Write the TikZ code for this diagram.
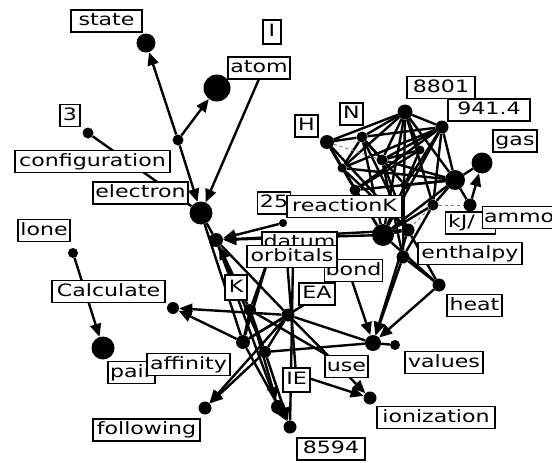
\documentclass[tikz,border=0pt]{standalone}
\usepackage{fontspec}
\newfontfamily\lblfont[FakeStretch=1.3]{DejaVu Sans}
\usetikzlibrary{arrows.meta}
\pgfdeclarelayer{bg}
\pgfsetlayers{bg,main}
\begin{document}
\begin{tikzpicture}[x=1pt,y=-1pt,
  blob/.style={circle,fill=black,inner sep=0pt,minimum size=#1},
  blob/.default=10pt,
  lbl/.style={draw=black,line width=1.1pt,fill=white,inner sep=1.5pt,minimum height=22pt,
    text height=12.4pt,text depth=3.3pt,font={\lblfont\fontsize{17pt}{19pt}\selectfont}},
  edge/.style={line width=2.4pt},
  arr/.style={edge,-{Triangle[length=13pt,width=11pt]}},
  faint/.style={gray,dashed,line width=1pt}]
\useasboundingbox (0,0) rectangle (552,463);
\begin{pgfonlayer}{bg}
\fill[white] (0,0) rectangle (552,463);
\end{pgfonlayer}
% dots
\node[blob=19pt] (dstate) at (146,43) {};
\node[blob=27pt] (dbig) at (217,88) {};
\node[blob=11pt] (dc) at (178,140) {};
\node[blob=11pt] (d3) at (88,133) {};
\node[blob=23pt] (delec) at (201,213) {};
\node[blob=14pt] (dx) at (216,240) {};
\node[blob=8pt] (d25) at (283,223) {};
\node[blob=10pt] (dlone) at (73,253) {};
\node[blob=23pt] (dpair) at (103,348) {};
\node[blob=12pt] (dI) at (173,308) {};
\node[blob=13pt] (dfoll) at (205,408) {};
\node[blob=14pt] (h1) at (243,342) {};
\node[blob=13pt] (h2) at (288,315) {};
\node[blob=12pt] (h3) at (265,352) {};
\node[blob=12pt] (h4) at (250,310) {};
\node[blob=14pt] (d85a) at (278,407) {};
\node[blob=13pt] (d85) at (290,427) {};
\node[blob=16pt] (dval) at (373,343) {};
\node[blob=10pt] (dval2) at (395,345) {};
\node[blob=13pt] (dion) at (370,398) {};
\node[blob=13pt] (dheat) at (439,285) {};
\node[blob=14pt] (tH) at (327,142) {};
\node[blob=11pt] (tN) at (362,137) {};
\node[blob=15pt] (t88) at (405,112) {};
\node[blob=13pt] (t94) at (442,127) {};
\node[blob=11pt] (tc1) at (382,160) {};
\node[blob=20pt] (tc2) at (455,180) {};
\node[blob=11pt] (tc3) at (433,205) {};
\node[blob=22pt] (tc4) at (383,235) {};
\node[blob=13pt] (tc5) at (408,230) {};
\node[blob=13pt] (tc6) at (403,257) {};
\node[blob=21pt] (tgas) at (482,163) {};
\node[blob=11pt] (tr) at (355,190) {};
\node[blob=13pt] (tc7) at (470,205) {};
\node[blob=9pt] (tc9) at (342,168) {};
\node[blob=9pt] (tc10) at (420,150) {};
\node[blob=9pt] (tc11) at (405,185) {};
% hidden coordinates
\coordinate (catom) at (262,72);
\coordinate (cbond) at (350,275);
\coordinate (co1) at (268,260);
\coordinate (co2) at (287,260);
\coordinate (co3) at (293,260);
\coordinate (cIE) at (302,376);
\coordinate (cEA) at (312,300);
% labels
\node[lbl,minimum width=71pt] (state) at (106.5,21) {state};
\node[lbl,minimum width=18pt,minimum height=24pt] (lI) at (272,32) {I};
\node[lbl,minimum width=62pt] (atom) at (259,68) {atom};
\node[lbl,minimum width=20pt] (l3) at (70,115.5) {3};
\node[lbl,minimum width=155pt] (config) at (92.5,161.5) {configuration};
\node[lbl,minimum width=95pt] (electron) at (140.5,193) {electron};
\node[lbl,minimum width=52pt] (lone) at (44,230.5) {lone};
\node[lbl,minimum width=113pt] (calc) at (108.5,291.5) {Calculate};
\node[lbl,minimum width=47pt] (pair) at (131.5,372.5) {pair};
\node[lbl,minimum width=83pt] (aff) at (188.5,364.5) {affinity};
\node[lbl,minimum width=107pt] (foll) at (146.5,430) {following};
\node[lbl,minimum width=22pt,minimum height=25pt] (K) at (236,287.5) {K};
\node[lbl,minimum width=33pt,anchor=west] (l25) at (257,203) {25};
\node[lbl,minimum width=115pt] (react) at (344.5,206.5) {reactionK};
\node[lbl,minimum width=75pt] (datum) at (299.5,243) {datum};
\node[lbl,minimum width=57pt] (bond) at (353.5,270.5) {bond};
\node[lbl,minimum width=90pt] (orb) at (292,256.5) {orbitals};
\node[lbl,minimum width=36pt] (EA) at (317,294) {EA};
\node[lbl,minimum width=27pt,minimum height=24pt] (IE) at (296.5,380) {IE};
\node[lbl,minimum width=43pt] (use) at (346.5,366.5) {use};
\node[lbl,minimum width=78pt] (values) at (444,362.5) {values};
\node[lbl,minimum width=118pt] (ion) at (436,417.5) {ionization};
\node[lbl,minimum width=68pt] (l8594) at (331,449) {8594};
\node[lbl,minimum width=55pt] (heat) at (474.5,305.5) {heat};
\node[lbl,minimum width=104pt] (enth) at (470,253.5) {enthalpy};
\node[lbl,anchor=west,minimum width=50pt,align=left,text width=45pt] (kJ) at (445,223) {kJ/};
\node[lbl,anchor=west] (amm) at (482,217.5) {ammonia};
\node[lbl,minimum width=68pt] (l8801) at (441,87.5) {8801};
\node[lbl,minimum width=82pt] (l941) at (489,110) {941.4};
\node[lbl,minimum width=44pt] (gas) at (515,141) {gas};
\node[lbl,minimum width=23pt] (N) at (351.5,114) {N};
\node[lbl,minimum width=23pt] (H) at (306.5,126) {H};
% edges
\begin{pgfonlayer}{bg}
\draw[arr] (dc) -- (dstate);
\draw[arr] (dc) -- (dbig);
\draw[arr] (dc) -- (delec);
\draw[arr] (catom) -- (delec);
\draw[edge] (d3) -- (delec);
\draw[arr] (dlone) -- (dpair);
\draw[arr] (d25) -- (dx);
\draw[arr] (tc4) -- (dx);
\draw[arr] (tc5) -- (dx);
\draw[arr] (h4) -- (dx);
\draw[edge] (dx) -- (delec);
\draw[edge] (delec) -- (h1);
\draw[edge] (dx) -- (d85a);
\draw[edge] (dx) -- (h2);
\draw[edge] (dx) -- (h3);
\draw[edge] (co1) -- (h1);
\draw[edge] (co1) -- (h4);
\draw[edge] (co2) -- (IE);
\draw[edge] (co3) -- (d85);
\draw[edge] (cEA) -- (h1);
\draw[arr] (h2) -- (dI);
\draw[arr] (h1) -- (dI);
\draw[arr] (h3) -- (dfoll);
\draw[arr] (h2) -- (dfoll);
\draw[arr] (h4) -- (d85a);
\draw[arr] (h1) -- (d85);
\draw[arr] (h3) -- (d85);
\draw[edge] (h1) -- (h2);
\draw[edge] (h4) -- (h3);
\draw[edge] (h1) -- (h4);
\draw[edge] (h2) -- (h3);
\draw[edge] (h2) -- (dval);
\draw[edge] (h3) -- (dval);
\draw[arr] (h2) -- (dion);
\draw[arr] (cIE) -- (dion);
\draw[edge] (h4) -- (use);
\draw[arr] (cbond) -- (dval);
\draw[arr] (tc6) -- (dval);
\draw[arr] (tc5) -- (dval);
\draw[arr] (dheat) -- (dval);
\draw[edge] (tc6) -- (dheat);
\draw[edge] (tc4) -- (dheat);
\draw[edge] (tc5) -- (dheat);
\draw[edge] (dval) -- (dval2);
\draw[edge] (tc3) -- (tc6);
% top cluster
\draw[edge] (tH) -- (tN);
\draw[edge] (tH) -- (t88);
\draw[edge] (tH) -- (tr);
\draw[edge] (tH) -- (tc4);
\draw[edge] (tH) -- (tc9);
\draw[edge] (tN) -- (t88);
\draw[edge] (tN) -- (t94);
\draw[edge] (tN) -- (tc1);
\draw[edge] (tN) -- (tc4);
\draw[edge] (tN) -- (tc5);
\draw[edge] (tN) -- (tc9);
\draw[edge] (tN) -- (tc11);
\draw[edge] (t88) -- (t94);
\draw[edge] (t88) -- (tc1);
\draw[edge] (t88) -- (tc4);
\draw[edge] (t88) -- (tc6);
\draw[edge] (t88) -- (tc3);
\draw[edge] (t88) -- (tc2);
\draw[edge] (t88) -- (tc9);
\draw[edge] (t88) -- (tc10);
\draw[edge] (t94) -- (tc2);
\draw[edge] (t94) -- (tc1);
\draw[edge] (t94) -- (tc4);
\draw[edge] (t94) -- (tc3);
\draw[edge] (t94) -- (tr);
\draw[edge] (t94) -- (tc9);
\draw[edge] (t94) -- (tc11);
\draw[edge] (tc1) -- (tc2);
\draw[edge] (tc1) -- (tc5);
\draw[edge] (tc1) -- (tc6);
\draw[edge] (tc1) -- (tc10);
\draw[edge] (tc9) -- (tc5);
\draw[edge] (tc9) -- (tc2);
\draw[edge] (tc10) -- (tc4);
\draw[edge] (tc10) -- (tr);
\draw[edge] (tc11) -- (tc4);
\draw[edge] (tc11) -- (tc2);
\draw[edge] (tc2) -- (tc4);
\draw[edge] (tc2) -- (tgas);
\draw[edge] (tc2) -- (tc3);
\draw[arr] (tc7) -- (tgas);
\draw[edge] (tc2) -- (tc7);
\draw[edge] (tr) -- (tc2);
\draw[edge] (tr) -- (tc4);
\draw[edge] (tc3) -- (tc4);
\draw[edge] (tc5) -- (tc4);
\draw[edge] (tH) -- (tc5);
\draw[faint] (tH) -- (tc1);
\draw[faint] (tc3) -- (tc7);
\draw[faint] (tc3) -- (tc5);
\end{pgfonlayer}
\end{tikzpicture}
\end{document}
